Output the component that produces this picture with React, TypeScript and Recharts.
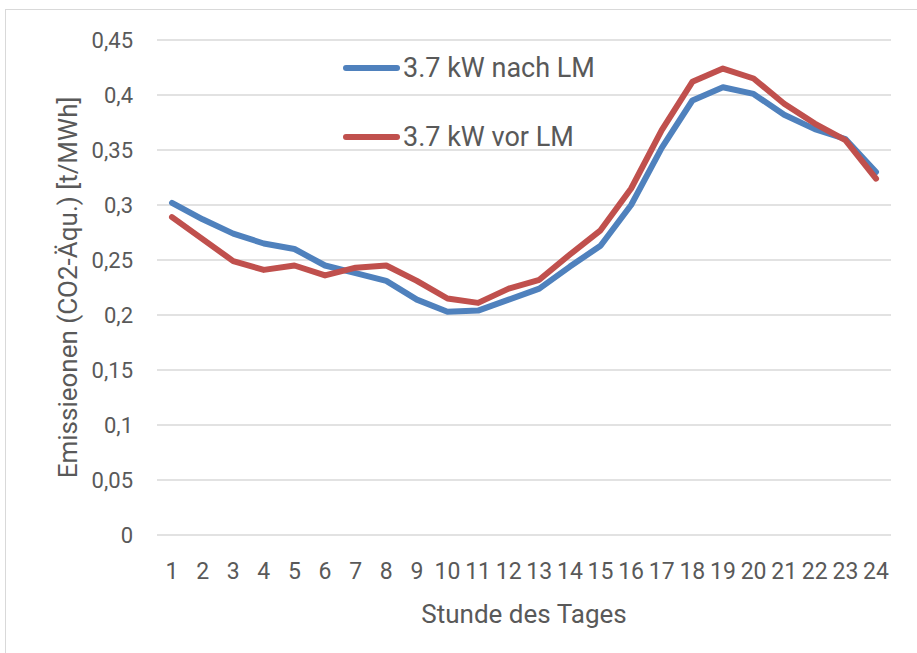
import { LineChart, Line, XAxis, YAxis, CartesianGrid, Legend } from "recharts";

const hours = [1, 2, 3, 4, 5, 6, 7, 8, 9, 10, 11, 12, 13, 14, 15, 16, 17, 18, 19, 20, 21, 22, 23, 24];

const nachLM = [
  0.302, 0.287, 0.274, 0.265, 0.26, 0.245, 0.238, 0.231, 0.214, 0.203, 0.204, 0.214,
  0.224, 0.244, 0.263, 0.3, 0.352, 0.395, 0.407, 0.401, 0.382, 0.369, 0.36, 0.33,
];

const vorLM = [
  0.289, 0.269, 0.249, 0.241, 0.245, 0.236, 0.243, 0.245, 0.231, 0.215, 0.211, 0.224,
  0.232, 0.255, 0.277, 0.315, 0.368, 0.412, 0.424, 0.415, 0.392, 0.374, 0.359, 0.324,
];

const yTicks = [0, 0.05, 0.1, 0.15, 0.2, 0.25, 0.3, 0.35, 0.4, 0.45];

const series = [
  { key: "nach", name: "3.7 kW nach LM", color: "#4f81bd" },
  { key: "vor", name: "3.7 kW vor LM", color: "#c0504d" },
];

const data = hours.map((h, i) => ({ hour: h, nach: nachLM[i], vor: vorLM[i] }));

const FONT = "Roboto, 'Noto Sans', sans-serif";
const TEXT = "#595959";

const fmt = (v: number) => String(Number(v.toFixed(2))).replace(".", ",");

function LegendBox() {
  return (
    <div style={{ fontFamily: FONT }}>
      {series.map((s) => (
        <div key={s.key} style={{ display: "flex", alignItems: "center", height: 69 }}>
          <div style={{ width: 57, height: 6, borderRadius: 3, background: s.color, marginRight: 3 }} />
          <span style={{ fontSize: 27, color: TEXT, lineHeight: "30px" }}>{s.name}</span>
        </div>
      ))}
    </div>
  );
}

export default function App() {
  return (
    <div style={{ position: "absolute", left: 0, top: 0, width: 917, height: 653, background: "#fff" }}>
      <div
        style={{
          position: "absolute",
          left: 5,
          top: 9,
          width: 940,
          height: 700,
          border: "1px solid #d9d9d9",
        }}
      />
      <LineChart
        width={917}
        height={653}
        data={data}
        margin={{ top: 40, right: 26, bottom: 0, left: 0 }}
        style={{ fontFamily: FONT }}
      >
        <CartesianGrid vertical={false} stroke="#d9d9d9" strokeWidth={1.5} />
        <XAxis
          dataKey="hour"
          height={118}
          interval={0}
          padding={{ left: 15, right: 15 }}
          tickLine={false}
          axisLine={false}
          tickSize={0}
          tickMargin={28}
          tick={{ fill: TEXT, fontSize: 23 }}
          label={{ value: "Stunde des Tages", position: "insideBottom", offset: 30, fill: TEXT, fontSize: 26 }}
        />
        <YAxis
          width={157}
          domain={[0, 0.45]}
          ticks={yTicks}
          tickFormatter={fmt}
          tickLine={false}
          axisLine={false}
          tickSize={0}
          tickMargin={24}
          tick={{ fill: TEXT, fontSize: 22 }}
          label={{
            value: "Emissieonen (CO2-Äqu.) [t/MWh]",
            angle: -90,
            position: "insideLeft",
            offset: 68,
            fill: TEXT,
            fontSize: 26,
            style: { textAnchor: "middle" },
          }}
        />
        <Legend
          layout="vertical"
          align="center"
          verticalAlign="middle"
          content={() => <LegendBox />}
          wrapperStyle={{ left: 343, top: 33, width: 300, height: 138 }}
        />
        {series.map((s) => (
          <Line
            key={s.key}
            type="linear"
            dataKey={s.key}
            name={s.name}
            stroke={s.color}
            strokeWidth={6}
            strokeLinejoin="round"
            strokeLinecap="round"
            dot={false}
            activeDot={false}
            isAnimationActive={false}
          />
        ))}
      </LineChart>
    </div>
  );
}
